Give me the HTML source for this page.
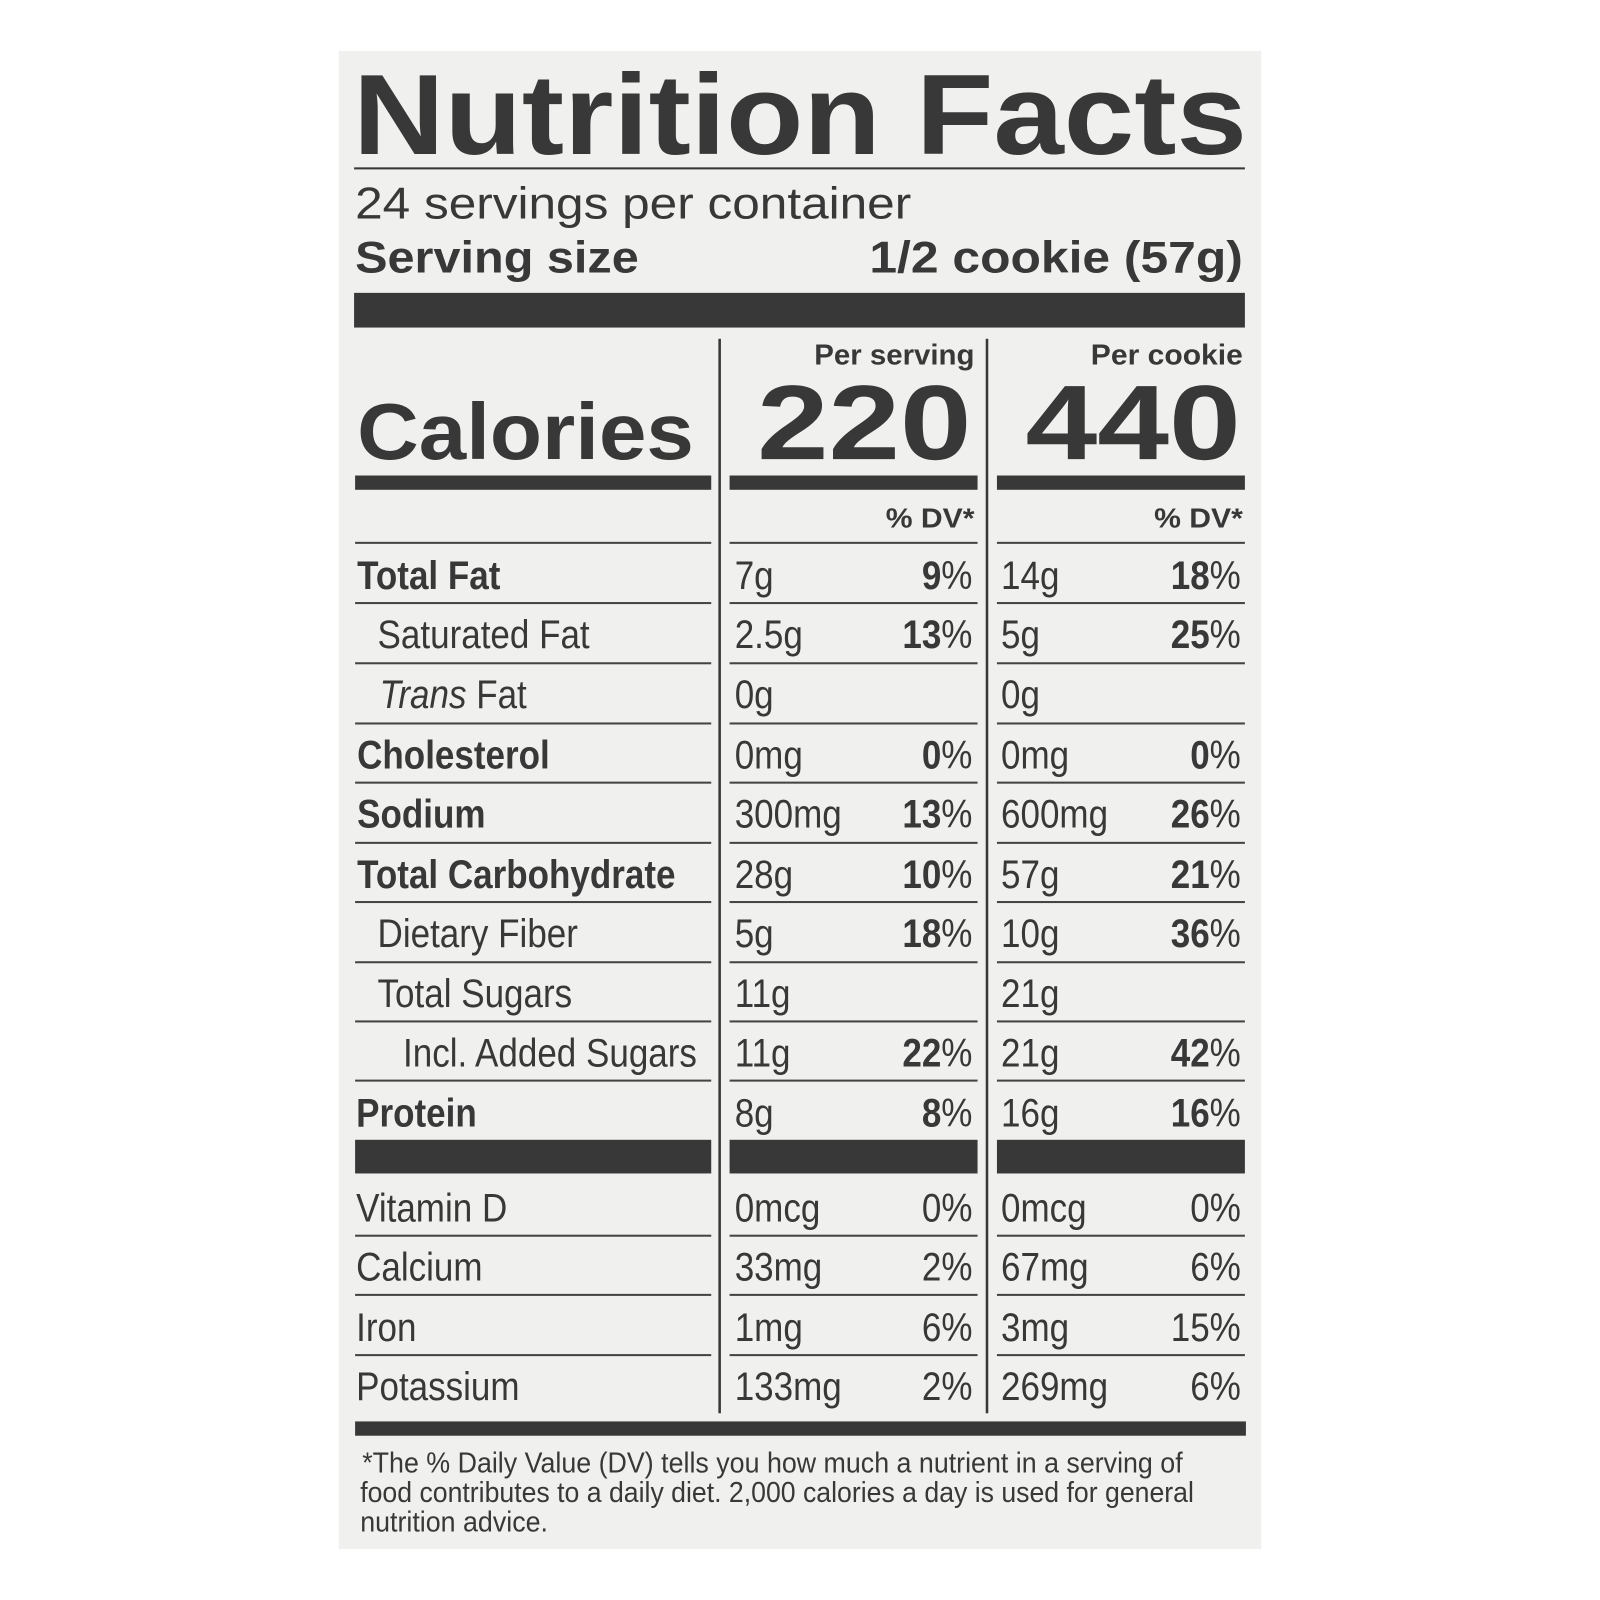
<!DOCTYPE html>
<html><head><meta charset="utf-8"><style>
html,body{margin:0;padding:0;background:#fff;}
svg{display:block;}
text{fill:#383838;}
.c{font-family:"Liberation Sans Narrow","Liberation Sans",sans-serif;font-size:39px;}
.h{font-family:"Liberation Sans",sans-serif;}
.b{font-weight:bold;}
</style></head><body>
<svg width="1600" height="1600" viewBox="0 0 1568 1568" xmlns="http://www.w3.org/2000/svg">
<rect x="332" y="50" width="904" height="1468" fill="#f0f0ee"/>
<g fill="#383838">
<rect x="347" y="164" width="873" height="2"/>
<rect x="347" y="287" width="873" height="34"/>
<rect x="704" y="332" width="2.5" height="1053"/>
<rect x="966" y="332" width="2.5" height="1053"/>
<rect x="348" y="466" width="349" height="14"/>
<rect x="715" y="466" width="243" height="14"/>
<rect x="977" y="466" width="243" height="14"/>
<rect x="348" y="1117" width="349" height="33"/>
<rect x="715" y="1117" width="243" height="33"/>
<rect x="977" y="1117" width="243" height="33"/>
<rect x="348" y="1393" width="873" height="14"/>
</g>
<g fill="#444">
<rect x="348" y="531" width="349" height="2"/><rect x="715" y="531" width="243" height="2"/><rect x="977" y="531" width="243" height="2"/>
<rect x="348" y="590" width="349" height="2"/><rect x="715" y="590" width="243" height="2"/><rect x="977" y="590" width="243" height="2"/>
<rect x="348" y="649" width="349" height="2"/><rect x="715" y="649" width="243" height="2"/><rect x="977" y="649" width="243" height="2"/>
<rect x="348" y="708" width="349" height="2"/><rect x="715" y="708" width="243" height="2"/><rect x="977" y="708" width="243" height="2"/>
<rect x="348" y="766" width="349" height="2"/><rect x="715" y="766" width="243" height="2"/><rect x="977" y="766" width="243" height="2"/>
<rect x="348" y="825" width="349" height="2"/><rect x="715" y="825" width="243" height="2"/><rect x="977" y="825" width="243" height="2"/>
<rect x="348" y="883" width="349" height="2"/><rect x="715" y="883" width="243" height="2"/><rect x="977" y="883" width="243" height="2"/>
<rect x="348" y="942" width="349" height="2"/><rect x="715" y="942" width="243" height="2"/><rect x="977" y="942" width="243" height="2"/>
<rect x="348" y="1000" width="349" height="2"/><rect x="715" y="1000" width="243" height="2"/><rect x="977" y="1000" width="243" height="2"/>
<rect x="348" y="1058" width="349" height="2"/><rect x="715" y="1058" width="243" height="2"/><rect x="977" y="1058" width="243" height="2"/>
<rect x="348" y="1210" width="349" height="2"/><rect x="715" y="1210" width="243" height="2"/><rect x="977" y="1210" width="243" height="2"/>
<rect x="348" y="1268" width="349" height="2"/><rect x="715" y="1268" width="243" height="2"/><rect x="977" y="1268" width="243" height="2"/>
<rect x="348" y="1327" width="349" height="2"/><rect x="715" y="1327" width="243" height="2"/><rect x="977" y="1327" width="243" height="2"/>
</g>
<text class="h b" x="346" y="151" font-size="112" textLength="876" lengthAdjust="spacingAndGlyphs">Nutrition Facts</text>
<text class="h" x="348" y="214" font-size="44" textLength="545" lengthAdjust="spacingAndGlyphs">24 servings per container</text>
<text class="h b" x="348" y="267" font-size="44" textLength="278" lengthAdjust="spacingAndGlyphs">Serving size</text>
<text class="h b" x="852" y="267" font-size="44" textLength="366" lengthAdjust="spacingAndGlyphs">1/2 cookie (57g)</text>
<text class="h b" x="798" y="357" font-size="28" textLength="157" lengthAdjust="spacingAndGlyphs">Per serving</text>
<text class="h b" x="1069" y="357" font-size="28" textLength="149" lengthAdjust="spacingAndGlyphs">Per cookie</text>
<text class="h b" x="350" y="450" font-size="78" textLength="330" lengthAdjust="spacingAndGlyphs">Calories</text>
<text class="h b" x="742" y="450" font-size="104" textLength="210" lengthAdjust="spacingAndGlyphs">220</text>
<text class="h b" x="1005" y="450" font-size="104" textLength="211" lengthAdjust="spacingAndGlyphs">440</text>
<text class="h b" x="868" y="517" font-size="27" textLength="87" lengthAdjust="spacingAndGlyphs">% DV*</text>
<text class="h b" x="1131" y="517" font-size="27" textLength="87" lengthAdjust="spacingAndGlyphs">% DV*</text>
<g class="c">
<text class="b" transform="translate(350 577) scale(.88 1)">Total Fat</text>
<text transform="translate(370 635) scale(.88 1)">Saturated Fat</text>
<text transform="translate(372 694) scale(.88 1)"><tspan font-style="italic">Trans</tspan> Fat</text>
<text class="b" transform="translate(350 753) scale(.88 1)">Cholesterol</text>
<text class="b" transform="translate(350 811) scale(.88 1)">Sodium</text>
<text class="b" transform="translate(350 870) scale(.88 1)">Total Carbohydrate</text>
<text transform="translate(370 928) scale(.88 1)">Dietary Fiber</text>
<text transform="translate(370 987) scale(.88 1)">Total Sugars</text>
<text transform="translate(395 1045) scale(.88 1)">Incl. Added Sugars</text>
<text class="b" transform="translate(349 1104) scale(.88 1)">Protein</text>
<text transform="translate(349 1197) scale(.88 1)">Vitamin D</text>
<text transform="translate(349 1255) scale(.88 1)">Calcium</text>
<text transform="translate(349 1314) scale(.88 1)">Iron</text>
<text transform="translate(349 1372) scale(.88 1)">Potassium</text>

<text transform="translate(720 577) scale(.88 1)">7g</text><text text-anchor="end" transform="translate(953 577) scale(.88 1)"><tspan font-weight="bold">9</tspan>%</text>
<text transform="translate(720 635) scale(.88 1)">2.5g</text><text text-anchor="end" transform="translate(953 635) scale(.88 1)"><tspan font-weight="bold">13</tspan>%</text>
<text transform="translate(720 694) scale(.88 1)">0g</text>
<text transform="translate(720 753) scale(.88 1)">0mg</text><text text-anchor="end" transform="translate(953 753) scale(.88 1)"><tspan font-weight="bold">0</tspan>%</text>
<text transform="translate(720 811) scale(.88 1)">300mg</text><text text-anchor="end" transform="translate(953 811) scale(.88 1)"><tspan font-weight="bold">13</tspan>%</text>
<text transform="translate(720 870) scale(.88 1)">28g</text><text text-anchor="end" transform="translate(953 870) scale(.88 1)"><tspan font-weight="bold">10</tspan>%</text>
<text transform="translate(720 928) scale(.88 1)">5g</text><text text-anchor="end" transform="translate(953 928) scale(.88 1)"><tspan font-weight="bold">18</tspan>%</text>
<text transform="translate(720 987) scale(.88 1)">11g</text>
<text transform="translate(720 1045) scale(.88 1)">11g</text><text text-anchor="end" transform="translate(953 1045) scale(.88 1)"><tspan font-weight="bold">22</tspan>%</text>
<text transform="translate(720 1104) scale(.88 1)">8g</text><text text-anchor="end" transform="translate(953 1104) scale(.88 1)"><tspan font-weight="bold">8</tspan>%</text>
<text transform="translate(720 1197) scale(.88 1)">0mcg</text><text text-anchor="end" transform="translate(953 1197) scale(.88 1)">0%</text>
<text transform="translate(720 1255) scale(.88 1)">33mg</text><text text-anchor="end" transform="translate(953 1255) scale(.88 1)">2%</text>
<text transform="translate(720 1314) scale(.88 1)">1mg</text><text text-anchor="end" transform="translate(953 1314) scale(.88 1)">6%</text>
<text transform="translate(720 1372) scale(.88 1)">133mg</text><text text-anchor="end" transform="translate(953 1372) scale(.88 1)">2%</text>

<text transform="translate(981 577) scale(.88 1)">14g</text><text text-anchor="end" transform="translate(1216 577) scale(.88 1)"><tspan font-weight="bold">18</tspan>%</text>
<text transform="translate(981 635) scale(.88 1)">5g</text><text text-anchor="end" transform="translate(1216 635) scale(.88 1)"><tspan font-weight="bold">25</tspan>%</text>
<text transform="translate(981 694) scale(.88 1)">0g</text>
<text transform="translate(981 753) scale(.88 1)">0mg</text><text text-anchor="end" transform="translate(1216 753) scale(.88 1)"><tspan font-weight="bold">0</tspan>%</text>
<text transform="translate(981 811) scale(.88 1)">600mg</text><text text-anchor="end" transform="translate(1216 811) scale(.88 1)"><tspan font-weight="bold">26</tspan>%</text>
<text transform="translate(981 870) scale(.88 1)">57g</text><text text-anchor="end" transform="translate(1216 870) scale(.88 1)"><tspan font-weight="bold">21</tspan>%</text>
<text transform="translate(981 928) scale(.88 1)">10g</text><text text-anchor="end" transform="translate(1216 928) scale(.88 1)"><tspan font-weight="bold">36</tspan>%</text>
<text transform="translate(981 987) scale(.88 1)">21g</text>
<text transform="translate(981 1045) scale(.88 1)">21g</text><text text-anchor="end" transform="translate(1216 1045) scale(.88 1)"><tspan font-weight="bold">42</tspan>%</text>
<text transform="translate(981 1104) scale(.88 1)">16g</text><text text-anchor="end" transform="translate(1216 1104) scale(.88 1)"><tspan font-weight="bold">16</tspan>%</text>
<text transform="translate(981 1197) scale(.88 1)">0mcg</text><text text-anchor="end" transform="translate(1216 1197) scale(.88 1)">0%</text>
<text transform="translate(981 1255) scale(.88 1)">67mg</text><text text-anchor="end" transform="translate(1216 1255) scale(.88 1)">6%</text>
<text transform="translate(981 1314) scale(.88 1)">3mg</text><text text-anchor="end" transform="translate(1216 1314) scale(.88 1)">15%</text>
<text transform="translate(981 1372) scale(.88 1)">269mg</text><text text-anchor="end" transform="translate(1216 1372) scale(.88 1)">6%</text>
</g>
<g class="c">
<text x="355" y="1443" font-size="28" textLength="804" lengthAdjust="spacingAndGlyphs">*The % Daily Value (DV) tells you how much a nutrient in a serving of</text>
<text x="353" y="1472" font-size="28" textLength="817" lengthAdjust="spacingAndGlyphs">food contributes to a daily diet. 2,000 calories a day is used for general</text>
<text x="353" y="1501" font-size="28" textLength="184" lengthAdjust="spacingAndGlyphs">nutrition advice.</text>
</g>
</svg>
</body></html>
